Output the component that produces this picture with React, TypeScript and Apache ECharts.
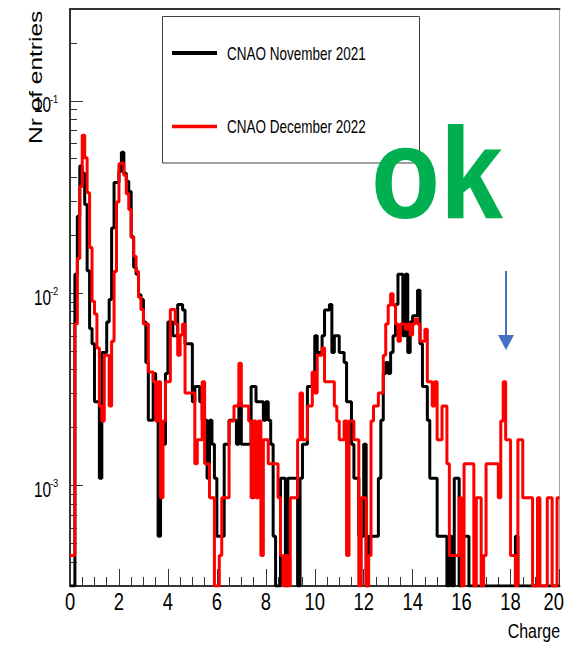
import React, { useEffect, useRef } from "react";
import * as echarts from "echarts";

// Histogram binning of the charge spectrum
const binWidth = 0.1;
const chargeMin = 0;
const chargeMax = 20;
const entriesMin = 3e-4;
const entriesMax = 0.3;

// Entries per 0.1 charge bin, CNAO November 2021 (bins 0.0 .. 19.9)
const nov2021Counts = [
  0, 0, 23, 46, 84, 77, 53, 24, 12, 10,
  5, 5, 2, 9, 9, 13, 17, 40, 69, 69,
  79, 99, 77, 70, 62, 36, 25, 23, 18, 17,
  13, 8, 4, 4, 7, 4, 1, 3, 3, 7,
  13, 13, 11, 11, 16, 16, 15, 10, 10, 10,
  5, 6, 6, 5, 4, 4, 2, 4, 3, 2,
  1, 1, 1, 3, 3, 4, 4, 4, 3, 5,
  3, 3, 3, 3, 6, 6, 5, 5, 5, 4,
  5, 4, 3, 1, 0, 0, 2, 2, 0, 2,
  2, 2, 2, 0, 2, 3, 3, 6, 6, 7,
  11, 9, 9, 11, 15, 15, 16, 9, 11, 11,
  9, 9, 8, 5, 5, 3, 2, 2, 1, 1,
  3, 0, 1, 1, 1, 1, 2, 4, 7, 8,
  7, 9, 11, 16, 23, 23, 11, 23, 9, 13,
  14, 14, 19, 10, 6, 6, 4, 2, 2, 2,
  1, 1, 1, 1, 0, 1, 0, 2, 2, 0,
  1, 1, 1, 0, 0, 0, 0, 0, 0, 0,
  0, 0, 0, 0, 0, 0, 0, 0, 0, 0,
  0, 0, 1, 0, 0, 0, 0, 0, 0, 0,
  0, 0, 0, 0, 0, 0, 0, 0, 0, 0,
];

// Entries per 0.1 charge bin, CNAO December 2022 (bins 0.0 .. 19.9)
const dec2022Counts = [
  1, 1, 16, 35, 83, 153, 117, 77, 40, 21,
  18, 12, 6, 5, 11, 11, 6, 13, 30, 69,
  109, 110, 95, 76, 63, 45, 36, 30, 22, 19,
  16, 16, 9, 9, 8, 5, 8, 2, 5, 8,
  8, 19, 19, 16, 11, 14, 16, 7, 7, 7,
  7, 3, 4, 4, 8, 3, 3, 2, 2, 0,
  0, 1, 2, 2, 2, 5, 5, 6, 6, 10,
  6, 6, 6, 5, 2, 5, 2, 5, 1, 4,
  4, 3, 3, 3, 3, 2, 1, 0, 1, 0,
  2, 2, 2, 4, 7, 4, 4, 6, 6, 9,
  7, 11, 11, 12, 8, 8, 8, 8, 6, 5,
  4, 4, 5, 1, 5, 5, 4, 4, 0, 2,
  2, 0, 1, 5, 6, 6, 7, 7, 11, 16,
  20, 23, 20, 16, 13, 16, 16, 15, 16, 14,
  16, 17, 16, 13, 13, 15, 8, 8, 6, 8,
  4, 4, 6, 6, 3, 1, 1, 1, 1, 2,
  0, 3, 3, 3, 3, 0, 2, 2, 0, 1,
  3, 3, 3, 3, 3, 2, 5, 8, 4, 4,
  1, 1, 0, 4, 4, 2, 2, 2, 2, 0,
  0, 2, 0, 0, 0, 2, 2, 0, 0, 2,
];

// Normalisation: weight of a single entry in each sample
const nov2021EntryWeight = 1 / 1835;
const dec2022EntryWeight = 1 / 2315;

const seriesNames = ["CNAO November 2021", "CNAO December 2022"];
const seriesColors = ["#000000", "#ff0000"];

const chargeTickInterval = 2;
const chargeTickLabels = [0, 2, 4, 6, 8, 10, 12, 14, 16, 18, 20];
const entriesMajorTicks = [1e-3, 1e-2, 1e-1];
const entriesMinorTicks = [
  4e-4, 5e-4, 6e-4, 7e-4, 8e-4, 9e-4,
  2e-3, 3e-3, 4e-3, 5e-3, 6e-3, 7e-3, 8e-3, 9e-3,
  2e-2, 3e-2, 4e-2, 5e-2, 6e-2, 7e-2, 8e-2, 9e-2,
  2e-1,
];

const xTitle = "Charge";
const yTitle = "Nr of entries";
const verdict = "ok";

const SANS = "'Liberation Sans', Arial, Helvetica, sans-serif";
// ROOT-style condensed lettering
const SQUEEZE = 0.76;

// Turn bin contents into step-line points (left edge of each bin + closing edge).
// Empty bins sit on the floor of the log axis, as ROOT draws them.
function toStepPoints(counts: number[], weight: number): [number, number][] {
  const pts: [number, number][] = counts.map((c, i) => [
    Number((chargeMin + i * binWidth).toFixed(2)),
    c > 0 ? c * weight : entriesMin,
  ]);
  pts.push([chargeMax, pts[pts.length - 1][1]]);
  return pts;
}

function condensedText(x: number, y: number, text: string, size: number, align: string, scaleX = SQUEEZE) {
  return {
    type: "text",
    x,
    y,
    scaleX,
    style: {
      text,
      font: `${size}px ${SANS}`,
      fill: "#000000",
      align,
      verticalAlign: "middle",
      textAlign: align,
      textVerticalAlign: "middle",
    },
  };
}

export default function App() {
  const ref = useRef<HTMLDivElement>(null);

  useEffect(() => {
    if (!ref.current) return;
    const chart = echarts.init(ref.current, undefined, { renderer: "svg" });

    const axisGray = "#333333";
    const gridLeft = 70;
    const gridTop = 9;
    const gridWidth = 489.5;
    const gridHeight = 577;
    const canvasWidth = 565;

    const option: any = {
      animation: false,
      backgroundColor: "#ffffff",
      grid: {
        left: gridLeft,
        top: gridTop,
        width: gridWidth,
        height: gridHeight,
        containLabel: false,
        outerBoundsMode: "none",
        show: true,
        borderColor: "#a6a6a6",
        borderWidth: 1,
      },
      xAxis: [
        {
          type: "value",
          min: chargeMin,
          max: chargeMax,
          interval: chargeTickInterval,
          position: "bottom",
          axisLine: { show: true, onZero: false, lineStyle: { color: axisGray, width: 2 } },
          axisTick: { show: true, inside: true, length: 17, lineStyle: { color: axisGray, width: 1 } },
          minorTick: { show: true, splitNumber: 4, length: 9, lineStyle: { color: axisGray, width: 1 } },
          axisLabel: { show: false },
          splitLine: { show: false },
          minorSplitLine: { show: false },
        },
        {
          type: "value",
          min: chargeMin,
          max: chargeMax,
          position: "top",
          axisLine: { show: true, onZero: false, lineStyle: { color: axisGray, width: 2 } },
          axisTick: { show: false },
          axisLabel: { show: false },
          splitLine: { show: false },
        },
      ],
      yAxis: [
        {
          type: "log",
          logBase: 10,
          min: entriesMin,
          max: entriesMax,
          position: "left",
          axisLine: { show: true, onZero: false, lineStyle: { color: axisGray, width: 2 } },
          axisTick: {
            show: true,
            inside: true,
            length: 13,
            customValues: entriesMajorTicks,
            lineStyle: { color: axisGray, width: 1 },
          },
          axisLabel: { show: false },
          splitLine: { show: false },
        },
        {
          type: "log",
          logBase: 10,
          min: entriesMin,
          max: entriesMax,
          position: "left",
          axisLine: { show: false },
          axisTick: {
            show: true,
            inside: true,
            length: 7,
            customValues: entriesMinorTicks,
            lineStyle: { color: axisGray, width: 1 },
          },
          axisLabel: { show: false },
          splitLine: { show: false },
        },
      ],
      series: [
        {
          name: seriesNames[0],
          type: "line",
          step: "end",
          xAxisIndex: 0,
          yAxisIndex: 0,
          data: toStepPoints(nov2021Counts, nov2021EntryWeight),
          showSymbol: false,
          symbol: "none",
          clip: true,
          color: seriesColors[0],
          lineStyle: { color: seriesColors[0], width: 3 },
        },
        {
          name: seriesNames[1],
          type: "line",
          step: "end",
          xAxisIndex: 0,
          yAxisIndex: 0,
          data: toStepPoints(dec2022Counts, dec2022EntryWeight),
          showSymbol: false,
          symbol: "none",
          clip: true,
          color: seriesColors[1],
          lineStyle: { color: seriesColors[1], width: 3 },
        },
        // Charge tick labels, placed by the x scale
        {
          type: "custom",
          name: "chargeTicks",
          xAxisIndex: 0,
          yAxisIndex: 0,
          clip: false,
          silent: true,
          z: 10,
          data: chargeTickLabels.map((v) => [v, entriesMin]),
          renderItem: (_params: any, api: any) => {
            const v = api.value(0);
            const [px, py] = api.coord([v, entriesMin]);
            const halfWidth = 10;
            const overflow = px + halfWidth > canvasWidth - 1;
            return condensedText(
              overflow ? canvasWidth - 1 : px,
              py + 15.5,
              String(v),
              23,
              overflow ? "right" : "center",
              0.8
            );
          },
        },
        // Entries tick labels (powers of ten), placed by the log scale
        {
          type: "custom",
          name: "entriesTicks",
          xAxisIndex: 0,
          yAxisIndex: 0,
          clip: false,
          silent: true,
          z: 10,
          data: entriesMajorTicks.map((v) => [chargeMin, v]),
          renderItem: (_params: any, api: any) => {
            const v = api.value(1);
            const [px, py] = api.coord([chargeMin, v]);
            const exp = Math.round(Math.log10(v));
            return {
              type: "group",
              children: [
                condensedText(px - 19, py + 4, "10", 22, "right", 0.7),
                condensedText(px - 20, py - 2, String(exp), 11, "left", 0.85),
              ],
            };
          },
        },
      ],
      graphic: [
        // Axis titles
        {
          type: "text",
          x: 36,
          y: 144,
          rotation: Math.PI / 2,
          scaleY: 0.72,
          style: {
            text: yTitle,
            font: `24.5px ${SANS}`,
            fill: "#000000",
            align: "left",
            verticalAlign: "middle",
            textAlign: "left",
            textVerticalAlign: "middle",
          },
        },
        condensedText(560, 631, xTitle, 21, "right"),
        // Legend box
        {
          type: "rect",
          shape: { x: 162.5, y: 16.5, width: 257, height: 146.5 },
          style: { fill: "#ffffff", stroke: "#404040", lineWidth: 1 },
        },
        {
          type: "line",
          shape: { x1: 172, y1: 53, x2: 217, y2: 53 },
          style: { stroke: seriesColors[0], lineWidth: 4 },
        },
        condensedText(227, 53.5, seriesNames[0], 18, "left", 0.75),
        {
          type: "line",
          shape: { x1: 172, y1: 126.5, x2: 217, y2: 126.5 },
          style: { stroke: seriesColors[1], lineWidth: 3.5 },
        },
        condensedText(227, 127, seriesNames[1], 18, "left", 0.75),
        // Verdict and marker arrow
        {
          type: "text",
          x: 371,
          y: 173,
          scaleX: 0.87,
          style: {
            text: verdict,
            font: `bold 130px ${SANS}`,
            fill: "#00b050",
            align: "left",
            verticalAlign: "middle",
            textAlign: "left",
            textVerticalAlign: "middle",
          },
        },
        {
          type: "line",
          shape: { x1: 506, y1: 271, x2: 506, y2: 338 },
          style: { stroke: "#4472c4", lineWidth: 2 },
        },
        {
          type: "polygon",
          shape: { points: [[498, 335], [514, 335], [506, 350]] },
          style: { fill: "#4472c4" },
        },
      ],
    };

    chart.setOption(option);
    return () => chart.dispose();
  }, []);

  return (
    <div
      ref={ref}
      style={{ position: "absolute", left: 0, top: 0, width: 565, height: 647 }}
    />
  );
}
